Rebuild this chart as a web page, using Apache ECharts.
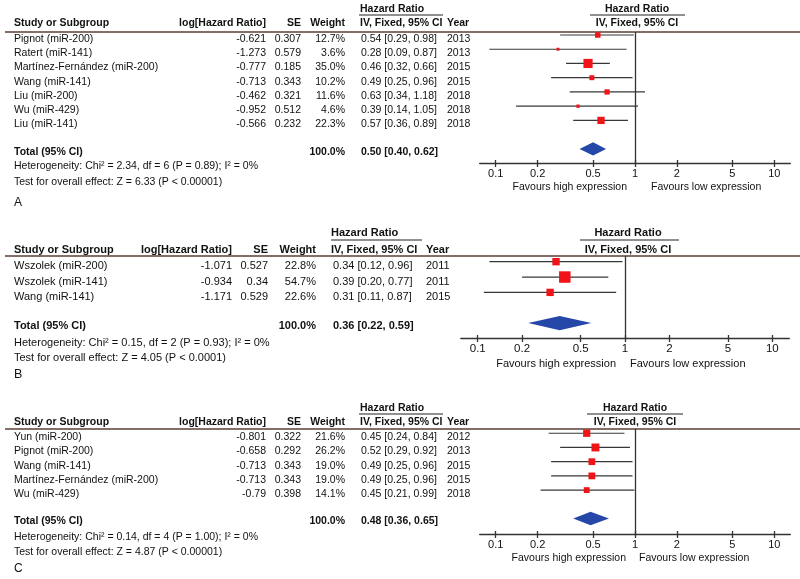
<!DOCTYPE html>
<html>
<head>
<meta charset="utf-8">
<title>Forest plots</title>
<style>
  html, body { margin: 0; padding: 0; background: #fff; }
  #main { width: 800px; height: 579px; }
</style>
</head>
<body>
<div id="main"></div>
<script src="https://cdn.jsdelivr.net/npm/echarts@6.0.0/dist/echarts.min.js"></script>
<script>
// ---- data: panel A ----
var studiesA = ['Pignot (miR-200)', 'Ratert (miR-141)', 'Martínez-Fernández (miR-200)', 'Wang (miR-141)', 'Liu (miR-200)', 'Wu (miR-429)', 'Liu (miR-141)'];
var logHrA = ['-0.621', '-1.273', '-0.777', '-0.713', '-0.462', '-0.952', '-0.566'];
var seA = ['0.307', '0.579', '0.185', '0.343', '0.321', '0.512', '0.232'];
var weightA = [12.7, 3.6, 35.0, 10.2, 11.6, 4.6, 22.3];
var hrA = [0.54, 0.28, 0.46, 0.49, 0.63, 0.39, 0.57];
var lowA = [0.29, 0.09, 0.32, 0.25, 0.34, 0.14, 0.36];
var highA = [0.98, 0.87, 0.66, 0.96, 1.18, 1.05, 0.89];
var yearA = [2013, 2013, 2015, 2015, 2018, 2018, 2018];
var totalA = [0.50, 0.40, 0.62];
var hetA = 'Heterogeneity: Chi² = 2.34, df = 6 (P = 0.89); I² = 0%';
var testA = 'Test for overall effect: Z = 6.33 (P < 0.00001)';

// ---- data: panel B ----
var studiesB = ['Wszolek (miR-200)', 'Wszolek (miR-141)', 'Wang (miR-141)'];
var logHrB = ['-1.071', '-0.934', '-1.171'];
var seB = ['0.527', '0.34', '0.529'];
var weightB = [22.8, 54.7, 22.6];
var hrB = [0.34, 0.39, 0.31];
var lowB = [0.12, 0.20, 0.11];
var highB = [0.96, 0.77, 0.87];
var yearB = [2011, 2011, 2015];
var totalB = [0.36, 0.22, 0.59];
var hetB = 'Heterogeneity: Chi² = 0.15, df = 2 (P = 0.93); I² = 0%';
var testB = 'Test for overall effect: Z = 4.05 (P < 0.0001)';

// ---- data: panel C ----
var studiesC = ['Yun (miR-200)', 'Pignot (miR-200)', 'Wang (miR-141)', 'Martínez-Fernández (miR-200)', 'Wu (miR-429)'];
var logHrC = ['-0.801', '-0.658', '-0.713', '-0.713', '-0.79'];
var seC = ['0.322', '0.292', '0.343', '0.343', '0.398'];
var weightC = [21.6, 26.2, 19.0, 19.0, 14.1];
var hrC = [0.45, 0.52, 0.49, 0.49, 0.45];
var lowC = [0.24, 0.29, 0.25, 0.25, 0.21];
var highC = [0.84, 0.92, 0.96, 0.96, 0.99];
var yearC = [2012, 2013, 2015, 2015, 2018];
var totalC = [0.48, 0.36, 0.65];
var hetC = 'Heterogeneity: Chi² = 0.14, df = 4 (P = 1.00); I² = 0%';
var testC = 'Test for overall effect: Z = 4.87 (P < 0.00001)';

var tickValues = [0.1, 0.2, 0.5, 1, 2, 5, 10];
var panelLetters = ['A', 'B', 'C'];

// ---- layout (pixels) ----
var panels = [
  { studies: studiesA, logHr: logHrA, se: seA, weight: weightA, hr: hrA, low: lowA, high: highA, year: yearA, total: totalA, het: hetA, test: testA,
    lineY: 32, axisY: 163, yMin: -0.21, yMax: 8.99, left: 479.7, width: 310.6,
    hrHeadY: 9, ulY: 15, colHeadY: 23, hetY: 166, testY: 182, letterY: 203,
    favY: 187, favHi: 627, favLo: 651, plotCx: 637, plotUl: [590, 685], tblUl: [359, 443],
    font: 10.5, rowOff: 4, totOff: 3,
    cols: { study: 14, log: 266, se: 301, w: 345, ci: 361, ciHead: 360, year: 447 } },
  { studies: studiesB, logHr: logHrB, se: seB, weight: weightB, hr: hrB, low: lowB, high: highB, year: yearB, total: totalB, het: hetB, test: testB,
    lineY: 256, axisY: 338, yMin: -0.37, yMax: 4.97, left: 460.8, width: 328.5,
    hrHeadY: 233, ulY: 240, colHeadY: 250, hetY: 343, testY: 358, letterY: 375,
    favY: 364, favHi: 616, favLo: 630, plotCx: 628, plotUl: [580, 679], tblUl: [331, 422],
    font: 11, rowOff: 4.5, totOff: 3,
    cols: { study: 14, log: 232, se: 268, w: 316, ci: 333, ciHead: 331, year: 426 } },
  { studies: studiesC, logHr: logHrC, se: seC, weight: weightC, hr: hrC, low: lowC, high: highC, year: yearC, total: totalC, het: hetC, test: testC,
    lineY: 429, axisY: 534, yMin: -0.30, yMax: 7.09, left: 479.7, width: 310.6,
    hrHeadY: 408, ulY: 414, colHeadY: 422, hetY: 537, testY: 552, letterY: 569,
    favY: 558, favHi: 626, favLo: 639, plotCx: 635, plotUl: [587, 683], tblUl: [359, 443],
    font: 10.5, rowOff: 4, totOff: 3,
    cols: { study: 14, log: 266, se: 301, w: 345, ci: 361, ciHead: 360, year: 447 } }
];

var FAM = '"Liberation Sans", Arial, Helvetica, sans-serif';
var TXT = '#111111';
var logTicks = tickValues.map(function (t) { return Math.log10(t); });

function rowY(p, idx) {
  return p.lineY + (idx - p.yMin) / (p.yMax - p.yMin) * (p.axisY - p.lineY);
}
function ciText(hr, lo, hi) {
  return hr.toFixed(2) + ' [' + lo.toFixed(2) + ', ' + hi.toFixed(2) + ']';
}
function txt(x, y, s, size, align, bold) {
  return {
    type: 'text', x: x, y: y, silent: true,
    style: { text: s, fill: TXT, font: (bold ? 'bold ' : '') + size + 'px ' + FAM,
      textAlign: align || 'left', textVerticalAlign: 'middle', verticalAlign: 'middle' }
  };
}
function hline(x1, x2, y, color, w) {
  return { type: 'line', silent: true, shape: { x1: x1, y1: y, x2: x2, y2: y }, style: { stroke: color, lineWidth: w } };
}

var grids = [], xAxes = [], yAxes = [], series = [], graphics = [];

panels.forEach(function (p, k) {
  grids.push({ left: p.left, top: p.lineY, width: p.width, height: p.axisY - p.lineY,
    containLabel: false, outerBoundsMode: 'none' });
  xAxes.push({
    type: 'value', gridIndex: k, min: -1.115, max: 1.115, position: 'bottom',
    axisLine: { show: true, onZero: false, lineStyle: { color: '#333', width: 1.3 } },
    axisTick: { show: true, customValues: logTicks, length: 4, lineStyle: { color: '#333', width: 1.3 } },
    axisLabel: { show: true, customValues: logTicks, margin: 5, color: TXT, fontSize: p.font + 0.5, fontFamily: FAM,
      formatter: function (v) {
        for (var i = 0; i < tickValues.length; i++) {
          if (Math.abs(logTicks[i] - v) < 1e-6) return String(tickValues[i]);
        }
        return '';
      } },
    splitLine: { show: false }
  });
  yAxes.push({ type: 'value', gridIndex: k, inverse: true, min: p.yMin, max: p.yMax, show: false, splitLine: { show: false } });

  var data = [];
  for (var i = 0; i < p.studies.length; i++) {
    data.push([Math.log10(p.hr[i]), i, Math.log10(p.low[i]), Math.log10(p.high[i]), p.weight[i], 0]);
  }
  var totIdx = p.studies.length + 1;
  data.push([Math.log10(p.total[0]), totIdx, Math.log10(p.total[1]), Math.log10(p.total[2]), 100, 1]);

  series.push({
    type: 'custom', xAxisIndex: k, yAxisIndex: k, data: data, silent: true,
    renderItem: function (params, api) {
      var y = api.value(1);
      var c = api.coord([api.value(0), y]);
      var l = api.coord([api.value(2), y]);
      var h = api.coord([api.value(3), y]);
      if (api.value(5)) {
        var hh = api.size([0, 0.47])[1];
        return { type: 'polygon',
          shape: { points: [[l[0], c[1]], [c[0], c[1] - hh], [h[0], c[1]], [c[0], c[1] + hh]] },
          style: { fill: '#2547a8' } };
      }
      var s = 1.55 * Math.sqrt(api.value(4));
      return { type: 'group', children: [
        { type: 'line', shape: { x1: l[0], y1: c[1], x2: h[0], y2: c[1] }, style: { stroke: '#383838', lineWidth: 1.2 } },
        { type: 'rect', shape: { x: c[0] - s / 2, y: c[1] - s / 2, width: s, height: s }, style: { fill: '#f01418' } }
      ] };
    },
    markLine: {
      silent: true, symbol: 'none', label: { show: false },
      lineStyle: { color: '#333', width: 1.3, type: 'solid' },
      data: [{ xAxis: 0 }]
    }
  });

  // upward half of the crossing ticks
  graphics.push.apply(graphics, []);

  // table headers
  var f = p.font, c = p.cols;
  graphics.push(txt(c.ciHead, p.hrHeadY, 'Hazard Ratio', f, 'left', true));
  graphics.push(hline(p.tblUl[0], p.tblUl[1], p.ulY, '#222', 1.2));
  graphics.push(txt(p.plotCx, p.hrHeadY, 'Hazard Ratio', f, 'center', true));
  graphics.push(hline(p.plotUl[0], p.plotUl[1], p.ulY, '#222', 1.2));
  graphics.push(txt(c.study, p.colHeadY, 'Study or Subgroup', f, 'left', true));
  graphics.push(txt(c.log, p.colHeadY, 'log[Hazard Ratio]', f, 'right', true));
  graphics.push(txt(c.se, p.colHeadY, 'SE', f, 'right', true));
  graphics.push(txt(c.w, p.colHeadY, 'Weight', f, 'right', true));
  graphics.push(txt(c.ciHead, p.colHeadY, 'IV, Fixed, 95% CI', f, 'left', true));
  graphics.push(txt(c.year, p.colHeadY, 'Year', f, 'left', true));
  graphics.push(txt(p.plotCx, p.colHeadY, 'IV, Fixed, 95% CI', f, 'center', true));
  graphics.push(hline(5, 800, p.lineY, '#5a3e36', 1.5));

  // study rows
  for (var j = 0; j < p.studies.length; j++) {
    var ty = rowY(p, j) + p.rowOff;
    graphics.push(txt(c.study, ty, p.studies[j], f, 'left'));
    graphics.push(txt(c.log, ty, p.logHr[j], f, 'right'));
    graphics.push(txt(c.se, ty, p.se[j], f, 'right'));
    graphics.push(txt(c.w, ty, p.weight[j].toFixed(1) + '%', f, 'right'));
    graphics.push(txt(c.ci, ty, ciText(p.hr[j], p.low[j], p.high[j]), f, 'left'));
    graphics.push(txt(c.year, ty, String(p.year[j]), f, 'left'));
  }
  var tY = rowY(p, totIdx) + p.totOff;
  graphics.push(txt(c.study, tY, 'Total (95% CI)', f, 'left', true));
  graphics.push(txt(c.w, tY, '100.0%', f, 'right', true));
  graphics.push(txt(c.ci, tY, ciText(p.total[0], p.total[1], p.total[2]), f, 'left', true));
  graphics.push(txt(c.study, p.hetY, p.het, f, 'left'));
  graphics.push(txt(c.study, p.testY, p.test, f, 'left'));
  graphics.push(txt(c.study, p.letterY, panelLetters[k], f + 1.5, 'left'));

  graphics.push(txt(p.favHi, p.favY, 'Favours high expression', f, 'right'));
  graphics.push(txt(p.favLo, p.favY, 'Favours low expression', f, 'left'));
});

// second set of x axes (same scale) that only draws the upward part of each tick
panels.forEach(function (p, k) {
  xAxes.push({
    type: 'value', gridIndex: k, min: -1.115, max: 1.115, position: 'bottom',
    axisLine: { show: false, onZero: false },
    axisTick: { show: true, inside: true, customValues: logTicks, length: 3, lineStyle: { color: '#333', width: 1.3 } },
    axisLabel: { show: false },
    splitLine: { show: false }
  });
});

var chart = echarts.init(document.getElementById('main'), null, { renderer: 'canvas' });
chart.setOption({
  backgroundColor: '#ffffff',
  animation: false,
  grid: grids,
  xAxis: xAxes,
  yAxis: yAxes,
  series: series,
  graphic: { elements: graphics }
});
</script>
</body>
</html>
